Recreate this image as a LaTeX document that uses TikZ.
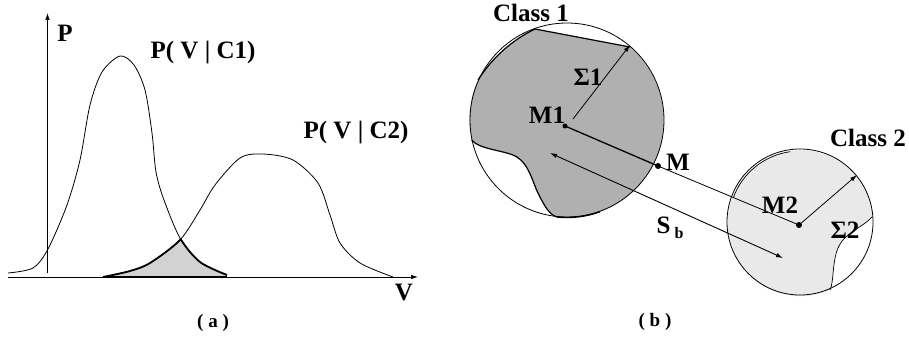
\documentclass[tikz,border=0pt]{standalone}
\usepackage{fontspec}
\setmainfont{Liberation Serif}
\usetikzlibrary{arrows.meta}
\begin{document}
\begin{tikzpicture}[x=1pt,y=-1pt,
  lbl/.style={font=\bfseries\fontsize{25}{27}\selectfont, inner sep=0pt},
  caplbl/.style={font=\bfseries\fontsize{19}{21}\selectfont, inner sep=0pt},
  curveline/.style={line width=0.8pt},
  axisline/.style={line width=0.7pt, -{Latex[length=7pt,width=4.5pt]}},
  arrowline/.style={line width=0.8pt, -{Latex[length=7pt,width=4.5pt]}},
  dot/.style={circle, fill=black, inner sep=0pt, minimum size=5pt},
  shadeedge/.style={line width=1.8pt},
]
\useasboundingbox (0,0) rectangle (909,339);

% ---------------- panel (a) ----------------
\begin{scope}
\clip plot[smooth] coordinates {(8,273) (33,268) (48,249) (67,205) (80,160) (90,105) (102,72) (120,56) (134,65) (145,90) (152,133) (156,172) (164,200) (180,238) (200,262) (227,275)} -- (227,280) -- (8,280) -- cycle;
\fill[gray!35] plot[smooth] coordinates {(103,277) (130,271) (150,263) (180,240) (200,210) (215,185) (240,158) (263,154) (293,160) (318,183) (330,215) (340,243) (360,263) (393,277)} -- cycle;
\draw[shadeedge] plot[smooth] coordinates {(103,277) (130,271) (150,263) (180,240) (200,210) (215,185) (240,158) (263,154) (293,160) (318,183) (330,215) (340,243) (360,263) (393,277)};
\end{scope}
\begin{scope}
\clip plot[smooth] coordinates {(103,277) (130,271) (150,263) (180,240) (200,210) (215,185) (240,158) (263,154) (293,160) (318,183) (330,215) (340,243) (360,263) (393,277)} -- cycle;
\draw[shadeedge] plot[smooth] coordinates {(8,273) (33,268) (48,249) (67,205) (80,160) (90,105) (102,72) (120,56) (134,65) (145,90) (152,133) (156,172) (164,200) (180,238) (200,262) (227,275)};
\end{scope}
\draw[curveline] plot[smooth] coordinates {(8,273) (33,268) (48,249) (67,205) (80,160) (90,105) (102,72) (120,56) (134,65) (145,90) (152,133) (156,172) (164,200) (180,238) (200,262) (227,275)};
\draw[curveline] plot[smooth] coordinates {(103,277) (130,271) (150,263) (180,240) (200,210) (215,185) (240,158) (263,154) (293,160) (318,183) (330,215) (340,243) (360,263) (393,277)};

\coordinate (vbot) at (47.5,273);
\coordinate (vtop) at (47.5,13);
\coordinate (hleft) at (8,277);
\coordinate (hright) at (418,277);
\draw[axisline] (vbot) -- (vtop);
\draw[axisline] (hleft) -- (hright);
\draw[line width=1.6pt] (103,277) -- (227,277);

\node[lbl] (Plab) at (65,33) {P};
\node[lbl] (Vlab) at (404,293) {V};
\node[lbl] (pc1) at (203,53) {P( V | C1)};
\node[lbl] (pc2) at (356,133) {P( V | C2)};
\node[caplbl] (capa) at (213,323) {( a )};

% ---------------- panel (b) ----------------
\coordinate (c1) at (567,120);
\coordinate (c2) at (800,222);

% class 1 shaded region
\fill[gray!62] (557,217) arc[start angle=95.9, end angle=-49.2, radius=97]
  -- (535,29) .. controls (512,40) and (492,58) .. (478,80)
  arc[start angle=-155.8, end angle=-192, radius=97]
  .. controls (480,150) and (505,150) .. (517,157)
  .. controls (530,165) and (533,185) .. (540,197)
  .. controls (545,207) and (550,215) .. (557,217) -- cycle;
\draw[line width=0.8pt] (c1) circle[radius=97];
\draw[line width=1.2pt] (630,47) -- (535,29) .. controls (512,40) and (492,58) .. (478,80);
\draw[line width=1.2pt] (471.6,140)
  .. controls (480,150) and (505,150) .. (517,157)
  .. controls (530,165) and (533,185) .. (540,197)
  .. controls (545,207) and (550,215) .. (557,217);
\draw[line width=1.4pt] (557,217) arc[start angle=95.9, end angle=70, radius=97];

% class 2 shaded region
\fill[gray!17] (872,217) .. controls (862,228) and (845,232) .. (838,248)
  .. controls (832,262) and (834,282) .. (830,290)
  arc[start angle=66.2, end angle=356, radius=73] -- cycle;
\draw[line width=0.8pt] (c2) circle[radius=73];
\draw[line width=0.7pt] (872,217) .. controls (862,228) and (845,232) .. (838,248)
  .. controls (832,262) and (834,282) .. (830,290);
\draw[line width=0.7pt] (c2) ++(200:71) arc[start angle=200, end angle=262, radius=71];

% points and connectors
\node[dot, minimum size=5pt] (M1) at (565,126) {};
\node[dot, minimum size=6pt] (M) at (658,166) {};
\node[dot, minimum size=6pt] (M2) at (799,225) {};
\draw[line width=1.3pt] (M1.center) -- (M.center);
\draw[line width=0.8pt] (M.center) -- (M2.center);

\coordinate (s1a) at (573,119);
\coordinate (s1b) at (630,45);
\draw[arrowline] (s1a) -- (s1b);
\coordinate (s2b) at (857,175);
\draw[arrowline] (M2.center) -- (s2b);
\coordinate (sba) at (550,153);
\coordinate (sbb) at (783,258);
\draw[line width=0.9pt, {Latex[length=7pt,width=4.5pt]}-{Latex[length=7pt,width=4.5pt]}] (sba) -- (sbb);

% labels
\node[lbl] (cl1) at (531,13) {Class 1};
\node[lbl] (cl2) at (868,138) {Class 2};
\node[lbl] (m1lab) at (547,115) {M1};
\node[lbl] (mlab) at (678,162) {M};
\node[lbl] (m2lab) at (780,205) {M2};
\node[lbl] (sig1) at (588,77) {Σ1};
\node[lbl] (sig2) at (845,230) {Σ2};
\node[lbl] (sb) at (670,228) {S\,\raisebox{-5pt}{\fontsize{16}{17}\selectfont b}};
\node[caplbl] (capb) at (655,322) {( b )};
\end{tikzpicture}
\end{document}
